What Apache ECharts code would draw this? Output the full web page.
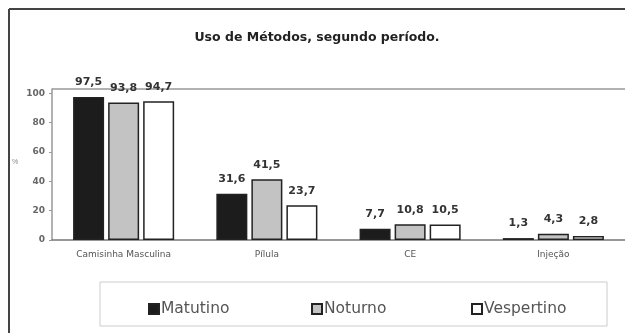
<!DOCTYPE html>
<html><head><meta charset="utf-8">
<script src="https://cdn.jsdelivr.net/npm/echarts@6/dist/echarts.min.js"></script>
<style>html,body{margin:0;padding:0;background:#fff}#c{width:625px;height:333px}</style>
</head><body><div id="c"></div>
<script>
const categories = ['Camisinha Masculina', 'Pílula', 'CE', 'Injeção'];
const seriesNames = ['Matutino', 'Noturno', 'Vespertino'];
const matutino = [97.5, 31.6, 7.7, 1.3];
const noturno = [93.8, 41.5, 10.8, 4.3];
const vespertino = [94.7, 23.7, 10.5, 2.8];
const yTicks = [0, 20, 40, 60, 80, 100];

const fills = ['#1c1c1c', '#c3c3c3', '#ffffff'];
const values = [matutino, noturno, vespertino];
const chart = echarts.init(document.getElementById('c'));
const fmt = v => String(v.value).replace('.', ',');
chart.setOption({
  animation: false,
  backgroundColor: '#fff',
  title: {
    text: 'Uso de Métodos, segundo período.',
    left: 312, top: 26, textAlign: 'center',
    textStyle: {fontFamily: 'DejaVu Sans', fontSize: 12.5, fontWeight: 'bold', color: '#222'}
  },
  grid: {left: 52, right: 0, top: 89, bottom: 93},
  legend: seriesNames.map((n, i) => ({
    data: [n], left: [143, 306, 466][i], top: 296,
    itemWidth: 10, itemHeight: 10, itemGap: 0,
    textStyle: {fontFamily: 'DejaVu Sans', fontSize: 15.5, color: '#555', padding: [0, 0, 0, -3]},
    icon: 'rect'
  })),
  xAxis: {
    type: 'category', data: categories,
    axisLine: {lineStyle: {color: '#777', width: 1.5}},
    axisTick: {show: false},
    axisLabel: {fontFamily: 'DejaVu Sans', fontSize: 9, color: '#555', margin: 10}
  },
  yAxis: {
    type: 'value', min: 0, max: 103, interval: 20,
    axisLine: {show: true, lineStyle: {color: '#999', width: 1.5}},
    axisTick: {show: true, length: 3, lineStyle: {color: '#999'}},
    splitLine: {show: false},
    axisLabel: {fontFamily: 'DejaVu Sans', fontSize: 9, fontWeight: 'bold', color: '#666', margin: 7, showMaxLabel: false,
      formatter: v => yTicks.includes(v) ? String(v) : ''}
  },
  series: seriesNames.map((n, i) => ({
    name: n, type: 'bar', data: values[i],
    barWidth: 31, barGap: '13%',
    itemStyle: {color: fills[i], borderColor: '#222', borderWidth: 1.5},
    label: {show: true, position: 'top', distance: 9, formatter: fmt,
      fontFamily: 'DejaVu Sans', fontSize: 11, fontWeight: 'bold', color: '#333'}
  })),
  graphic: [
    {type: 'line', shape: {x1: 9, y1: 9, x2: 625, y2: 9}, style: {stroke: '#444', lineWidth: 2}},
    {type: 'line', shape: {x1: 9, y1: 9, x2: 9, y2: 333}, style: {stroke: '#444', lineWidth: 2}},
    {type: 'line', shape: {x1: 52, y1: 89, x2: 625, y2: 89}, style: {stroke: '#999', lineWidth: 1.5}},
    {type: 'rect', shape: {x: 100, y: 282, width: 507, height: 44}, style: {fill: 'none', stroke: '#ccc', lineWidth: 1}},
    {type: 'text', left: 12, top: 159, style: {text: '%', fontSize: 7, fill: '#888', fontFamily: 'Liberation Sans'}}
  ]
});
</script></body></html>
